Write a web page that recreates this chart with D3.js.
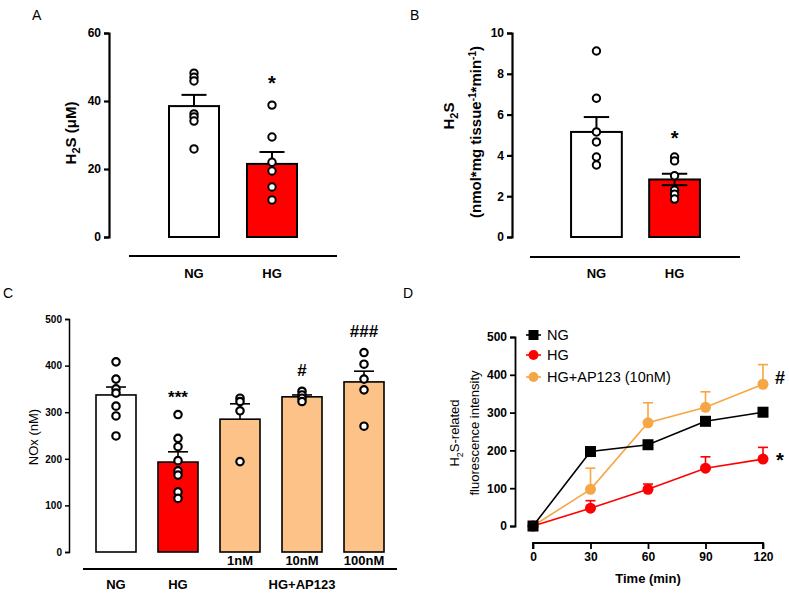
<!DOCTYPE html>
<html>
<head>
<meta charset="utf-8">
<script src="https://cdn.jsdelivr.net/npm/d3@7"></script>
<style>
  html, body { margin: 0; padding: 0; background: #fff; }
  svg { display: block; font-family: "Liberation Sans", Arial, sans-serif; }
</style>
</head>
<body>
<svg id="chart" width="789" height="595"></svg>
<script>
// ---------- Panel A ----------
const aCategories = ["NG", "HG"];
const aMeans = [38.5, 21.5];
const aSem = [3.3, 3.5];
const aPoints = [
  [48.2, 47.0, 45.9, 36.2, 35.3, 34.1, 25.9],
  [38.8, 29.4, 22.0, 19.4, 14.7, 10.9]
];
const aTicks = [0, 20, 40, 60];

// ---------- Panel B ----------
const bCategories = ["NG", "HG"];
const bMeans = [5.15, 2.82];
const bSem = [0.73, 0.28];
const bPoints = [
  [9.12, 6.8, 5.15, 4.66, 3.92, 3.53],
  [3.92, 3.73, 3.0, 2.3, 2.1, 1.86]
];
const bTicks = [0, 2, 4, 6, 8, 10];

// ---------- Panel C ----------
const cCategories = ["NG", "HG", "1nM", "10nM", "100nM"];
const cMeans = [337, 193, 285, 333, 365];
const cSem = [17, 22, 33, 4, 23];
const cPoints = [
  [408, 371, 350, 341, 313, 292, 249],
  [295, 244, 226, 196, 174, 165, 129, 115],
  [330, 323, 303, 194],
  [345, 337, 330, 323],
  [428, 403, 371, 348, 270]
];
const cTicks = [0, 100, 200, 300, 400, 500];
const cMarks = ["", "***", "", "#", "###"];

// ---------- Panel D ----------
const dTime = [0, 30, 60, 90, 120];
const dNG = [0, 197, 215, 277, 301];
const dHG = [0, 47, 97, 153, 177];
const dHGsem = [0, 20, 14, 30, 31];
const dAP = [0, 97, 273, 314, 375];
const dAPsem = [0, 56, 53, 41, 52];
const dTicksY = [0, 100, 200, 300, 400, 500];
const dSeriesNames = ["NG", "HG", "HG+AP123 (10nM)"];

const RED = "#ff0000";
const ORANGE_FILL = "#fdc287";
const ORANGE_LINE = "#f7a645";

const svg = d3.select("#chart");

function barPanel(opt) {
  const g = svg.append("g");
  const y = d3.scaleLinear().domain(opt.domain).range([opt.y0, opt.y1]);
  const x = d3.scaleBand().domain(opt.categories).range([opt.x0, opt.x1]).paddingInner(opt.padIn).paddingOuter(opt.padOut);
  const axis = d3.axisLeft(y).tickValues(opt.ticks).tickSize(opt.tickSize).tickPadding(3);
  const ag = g.append("g").attr("transform", `translate(${opt.axisX},0)`).call(axis);
  ag.select(".domain").attr("stroke", "#000").attr("stroke-width", opt.axisW);
  ag.selectAll(".tick line").attr("stroke", "#000").attr("stroke-width", opt.axisW);
  ag.selectAll(".tick text").attr("fill", "#000").style("font-size", opt.tickFont + "px").style("font-weight", "bold").style("font-family", "Liberation Sans, Arial, sans-serif");

  const bw = x.bandwidth();
  g.selectAll("rect.bar").data(opt.means).enter().append("rect")
    .attr("x", (d, i) => x(opt.categories[i]))
    .attr("y", d => y(d))
    .attr("width", bw)
    .attr("height", d => y(0) - y(d))
    .attr("fill", (d, i) => opt.fills[i])
    .attr("stroke", "#000").attr("stroke-width", opt.barStroke);
  opt.means.forEach((m, i) => {
    const cx = x(opt.categories[i]) + bw / 2;
    const top = y(m + opt.sem[i]);
    g.append("line").attr("x1", cx).attr("x2", cx).attr("y1", y(m)).attr("y2", top).attr("stroke", "#000").attr("stroke-width", opt.barStroke);
    g.append("line").attr("x1", cx - bw / 4).attr("x2", cx + bw / 4).attr("y1", top).attr("y2", top).attr("stroke", "#000").attr("stroke-width", opt.barStroke);
    if (opt.lowerCap && opt.lowerCap[i]) {
      const bot = y(m - opt.sem[i]);
      g.append("line").attr("x1", cx).attr("x2", cx).attr("y1", y(m)).attr("y2", bot).attr("stroke", "#000").attr("stroke-width", opt.barStroke);
      g.append("line").attr("x1", cx - bw / 4).attr("x2", cx + bw / 4).attr("y1", bot).attr("y2", bot).attr("stroke", "#000").attr("stroke-width", opt.barStroke);
    }
  });
  opt.points.forEach((pts, i) => {
    const cx = x(opt.categories[i]) + bw / 2;
    g.selectAll(null).data(pts).enter().append("circle")
      .attr("cx", cx).attr("cy", d => y(d)).attr("r", opt.r)
      .attr("fill", "#fff").attr("stroke", "#000").attr("stroke-width", opt.dotStroke);
  });
  if (opt.marks) {
    opt.marks.forEach((mk, i) => {
      if (!mk.text) return;
      g.append("text").attr("x", x(opt.categories[i]) + bw / 2).attr("y", mk.y)
        .attr("text-anchor", "middle")
        .style("font-size", mk.size + "px").style("font-weight", "bold").text(mk.text);
    });
  }
  return { x, y, g };
}

// ===== Panel A =====
const A = barPanel({
  categories: aCategories, means: aMeans, sem: aSem, points: aPoints, ticks: aTicks,
  domain: [0, 60], y0: 237, y1: 33, x0: 130, x1: 336, padIn: 0.359, padOut: 0.5,
  axisX: 109, tickSize: 5, axisW: 2.2, tickFont: 12, barStroke: 2, r: 3.7, dotStroke: 2,
  fills: ["#fff", RED],
  marks: [{}, { text: "*", y: 90, size: 20 }]
});
svg.append("line").attr("x1", 129).attr("x2", 337).attr("y1", 256).attr("y2", 256).attr("stroke", "#000").attr("stroke-width", 2.2);
aCategories.forEach(c => {
  svg.append("text").attr("x", A.x(c) + A.x.bandwidth() / 2).attr("y", 278).attr("text-anchor", "middle")
    .style("font-size", "13px").style("font-weight", "bold").text(c);
});
svg.append("text").attr("transform", "translate(76,133) rotate(-90)").attr("text-anchor", "middle")
  .style("font-size", "15px").style("font-weight", "bold")
  .call(t => { t.append("tspan").text("H"); t.append("tspan").attr("dy", 4).style("font-size", "11px").text("2"); t.append("tspan").attr("dy", -4).text("S (μM)"); });
svg.append("text").attr("x", 32).attr("y", 20).style("font-size", "14px").text("A");

// ===== Panel B =====
const B = barPanel({
  categories: bCategories, means: bMeans, sem: bSem, points: bPoints, ticks: bTicks,
  domain: [0, 10], y0: 237, y1: 33, x0: 532, x1: 739, padIn: 0.35, padOut: 0.5,
  axisX: 512, tickSize: 5, axisW: 2.2, tickFont: 12, barStroke: 2, r: 3.7, dotStroke: 2,
  fills: ["#fff", RED], lowerCap: [false, true],
  marks: [{}, { text: "*", y: 145, size: 20 }]
});
svg.append("line").attr("x1", 530).attr("x2", 740).attr("y1", 257).attr("y2", 257).attr("stroke", "#000").attr("stroke-width", 2.2);
bCategories.forEach(c => {
  svg.append("text").attr("x", B.x(c) + B.x.bandwidth() / 2).attr("y", 278).attr("text-anchor", "middle")
    .style("font-size", "13px").style("font-weight", "bold").text(c);
});
svg.append("text").attr("transform", "translate(454,116) rotate(-90)").attr("text-anchor", "middle")
  .style("font-size", "15px").style("font-weight", "bold")
  .call(t => { t.append("tspan").text("H"); t.append("tspan").attr("dy", 4).style("font-size", "11px").text("2"); t.append("tspan").attr("dy", -4).text("S"); });
svg.append("text").attr("transform", "translate(481,132) rotate(-90)").attr("text-anchor", "middle")
  .style("font-size", "15px").style("font-weight", "bold")
  .call(t => {
    t.append("tspan").text("(nmol*mg tissue");
    t.append("tspan").attr("dy", -5).style("font-size", "10px").text("-1");
    t.append("tspan").attr("dy", 5).text("*min");
    t.append("tspan").attr("dy", -5).style("font-size", "10px").text("-1");
    t.append("tspan").attr("dy", 5).text(")");
  });
svg.append("text").attr("x", 410).attr("y", 20).style("font-size", "14px").text("B");

// ===== Panel C =====
const C = barPanel({
  categories: cCategories, means: cMeans, sem: cSem, points: cPoints, ticks: cTicks,
  domain: [0, 500], y0: 552, y1: 319, x0: 65, x1: 415, padIn: 0.355, padOut: 0.5,
  axisX: 69, tickSize: 4, axisW: 1.5, tickFont: 10, barStroke: 1.6, r: 3.7, dotStroke: 2.2,
  fills: ["#fff", RED, ORANGE_FILL, ORANGE_FILL, ORANGE_FILL],
  marks: cMarks.map((t, i) => ({ text: t, y: [0, 403, 0, 376, 337][i], size: 17 }))
});
svg.append("line").attr("x1", 83).attr("x2", 397).attr("y1", 569).attr("y2", 569).attr("stroke", "#000").attr("stroke-width", 1.8);
cCategories.forEach((c, i) => {
  const cx = C.x(c) + C.x.bandwidth() / 2;
  svg.append("text").attr("x", cx).attr("y", i < 2 ? 589 : 565).attr("text-anchor", "middle")
    .style("font-size", "13px").style("font-weight", "bold").text(c);
});
svg.append("text").attr("x", C.x("10nM") + C.x.bandwidth() / 2).attr("y", 589).attr("text-anchor", "middle")
  .style("font-size", "13px").style("font-weight", "bold").text("HG+AP123");
svg.append("text").attr("transform", "translate(38,437) rotate(-90)").attr("text-anchor", "middle")
  .style("font-size", "13px").text("NOx (nM)");
svg.append("text").attr("x", 3).attr("y", 298).style("font-size", "14px").text("C");

// ===== Panel D =====
const dy = d3.scaleLinear().domain([0, 500]).range([526, 337]);
const dx = d3.scaleLinear().domain([0, 120]).range([533, 763]);
const dg = svg.append("g");
const dyAxis = dg.append("g").attr("transform", "translate(515,0)").call(d3.axisLeft(dy).tickValues(dTicksY).tickSize(5).tickPadding(3));
const dxAxis = dg.append("g").attr("transform", "translate(0,543)").call(d3.axisBottom(dx).tickValues(dTime).tickSize(6).tickPadding(3));
[dyAxis, dxAxis].forEach(a => {
  a.select(".domain").attr("stroke", "#000").attr("stroke-width", 1.8);
  a.selectAll(".tick line").attr("stroke", "#000").attr("stroke-width", 1.8);
  a.selectAll(".tick text").attr("fill", "#000").style("font-size", "12px").style("font-weight", "bold").style("font-family", "Liberation Sans, Arial, sans-serif");
});
dxAxis.select(".domain").attr("d", `M${dx(0)},6V0H${dx(120)}V6`);

const line = d3.line().x((d, i) => dx(dTime[i])).y(d => dy(d));
function errBars(vals, sems, color) {
  vals.forEach((v, i) => {
    if (!sems[i]) return;
    const cx = dx(dTime[i]);
    dg.append("line").attr("x1", cx).attr("x2", cx).attr("y1", dy(v)).attr("y2", dy(v + sems[i])).attr("stroke", color).attr("stroke-width", 1.6);
    dg.append("line").attr("x1", cx - 5).attr("x2", cx + 5).attr("y1", dy(v + sems[i])).attr("y2", dy(v + sems[i])).attr("stroke", color).attr("stroke-width", 1.6);
  });
}
errBars(dAP, dAPsem, ORANGE_LINE);
errBars(dHG, dHGsem, RED);
dg.append("path").datum(dAP).attr("d", line).attr("fill", "none").attr("stroke", ORANGE_LINE).attr("stroke-width", 1.6);
dg.append("path").datum(dHG).attr("d", line).attr("fill", "none").attr("stroke", RED).attr("stroke-width", 1.6);
dg.append("path").datum(dNG).attr("d", line).attr("fill", "none").attr("stroke", "#000").attr("stroke-width", 1.6);
dg.selectAll(null).data(dAP).enter().append("circle").attr("cx", (d, i) => dx(dTime[i])).attr("cy", d => dy(d)).attr("r", 5.5).attr("fill", ORANGE_LINE);
dg.selectAll(null).data(dHG).enter().append("circle").attr("cx", (d, i) => dx(dTime[i])).attr("cy", d => dy(d)).attr("r", 5.5).attr("fill", RED);
dg.selectAll(null).data(dNG).enter().append("rect").attr("x", (d, i) => dx(dTime[i]) - 5.5).attr("y", d => dy(d) - 5.5).attr("width", 11).attr("height", 11).attr("fill", "#000");

// legend
const legColors = ["#000", RED, ORANGE_LINE];
const legY = [335, 355, 377];
dSeriesNames.forEach((n, i) => {
  const ly = legY[i];
  dg.append("line").attr("x1", 526).attr("x2", 541).attr("y1", ly).attr("y2", ly).attr("stroke", legColors[i]).attr("stroke-width", 1.6);
  if (i === 0) dg.append("rect").attr("x", 528.5).attr("y", ly - 5).attr("width", 10).attr("height", 10).attr("fill", "#000");
  else dg.append("circle").attr("cx", 533.5).attr("cy", ly).attr("r", 5).attr("fill", legColors[i]);
  dg.append("text").attr("x", 547).attr("y", ly + 5).style("font-size", "14.5px").text(n);
});
dg.append("text").attr("x", 780).attr("y", 384).attr("text-anchor", "middle").style("font-size", "18px").style("font-weight", "bold").text("#");
dg.append("text").attr("x", 780).attr("y", 467).attr("text-anchor", "middle").style("font-size", "20px").style("font-weight", "bold").text("*");
dg.append("text").attr("transform", "translate(459,433) rotate(-90)").attr("text-anchor", "middle").style("font-size", "13px")
  .call(t => { t.append("tspan").text("H"); t.append("tspan").attr("dy", 4).style("font-size", "9px").text("2"); t.append("tspan").attr("dy", -4).text("S-related"); });
dg.append("text").attr("transform", "translate(479,433) rotate(-90)").attr("text-anchor", "middle").style("font-size", "13px").text("fluorescence intensity");
dg.append("text").attr("x", 648).attr("y", 583).attr("text-anchor", "middle").style("font-size", "13px").style("font-weight", "bold").text("Time (min)");
svg.append("text").attr("x", 403).attr("y", 298).style("font-size", "14px").text("D");
</script>
</body>
</html>
